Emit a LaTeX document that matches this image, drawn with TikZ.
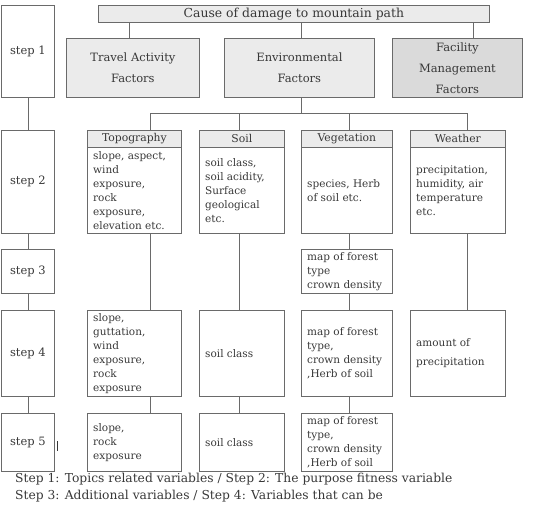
\documentclass[tikz,border=0pt]{standalone}
\usepackage{fontspec}
\setmainfont{DejaVu Serif}
\definecolor{lc}{HTML}{6A6A6A}
\definecolor{tc}{HTML}{383838}
\definecolor{fl}{HTML}{EBEBEB}
\definecolor{fd}{HTML}{DADADA}
\begin{document}
\begin{tikzpicture}[x=1pt,y=-1pt,
  box/.style={draw=lc, line width=0.8pt, inner sep=0pt, anchor=north west, text=tc},
  big/.style={font=\fontsize{11.5}{21}\selectfont, align=center},
  hdr/.style={box, fill=fl, font=\fontsize{10.8}{13}\selectfont, minimum height=17},
  txt/.style={anchor=west, align=left, inner sep=0pt, text=tc, font=\fontsize{10.5}{14}\selectfont},
  foot/.style={anchor=base west, inner sep=0pt, text=tc, font=\fontsize{12.3}{14}\selectfont},
  wire/.style={draw=lc, line width=0.8pt}]
\useasboundingbox (0,0) rectangle (543,504);
\clip (0,0) rectangle (543,504);
% level 1
\node[box, fill=fl, minimum width=391, minimum height=17, font=\fontsize{12.4}{14}\selectfont] (top) at (98,5) {Cause of damage to mountain path};
\node[box, big, minimum width=53, minimum height=92] (s1) at (1,5) {step 1};
\node[box, big, fill=fl, minimum width=133, minimum height=59] (tra) at (66,38) {Travel Activity\\Factors};
\node[box, big, fill=fl, minimum width=150, minimum height=59] (env) at (224,38) {Environmental\\Factors};
\node[box, big, fill=fd, minimum width=130, minimum height=59] (fac) at (392,38) {Facility\\Management\\Factors};
% step 2
\node[box, big, minimum width=53, minimum height=103] (s2) at (1,130) {step 2};
\node[hdr, minimum width=94] (topoH) at (87,130) {Topography};
\node[hdr, minimum width=85] (soilH) at (199,130) {Soil};
\node[hdr, minimum width=91] (vegH) at (301,130) {Vegetation};
\node[hdr, minimum width=95] (weaH) at (410,130) {Weather};
\node[box, minimum width=94, minimum height=86] (topoB) at (87,147) {};
\node[box, minimum width=85, minimum height=86] (soilB) at (199,147) {};
\node[box, minimum width=91, minimum height=86] (vegB) at (301,147) {};
\node[box, minimum width=95, minimum height=86] (weaB) at (410,147) {};
\node[txt] (topoBt) at ([xshift=6]topoB.west) {slope, aspect,\\wind\\exposure,\\rock\\exposure,\\elevation etc.};
\node[txt] (soilBt) at ([xshift=6]soilB.west) {soil class,\\soil acidity,\\Surface\\geological\\etc.};
\node[txt] (vegBt) at ([xshift=6]vegB.west) {species, Herb\\of soil etc.};
\node[txt] (weaBt) at ([xshift=6]weaB.west) {precipitation,\\humidity, air\\temperature\\etc.};
% step 3
\node[box, big, minimum width=53, minimum height=44] (s3) at (1,249) {step 3};
\node[box, minimum width=91, minimum height=44] (veg3) at (301,249) {};
\node[txt] (veg3t) at ([xshift=6]veg3.west) {map of forest\\type\\crown density};
% step 4
\node[box, big, minimum width=53, minimum height=86] (s4) at (1,310) {step 4};
\node[box, minimum width=94, minimum height=86] (topo4) at (87,310) {};
\node[box, minimum width=85, minimum height=86] (soil4) at (199,310) {};
\node[box, minimum width=91, minimum height=86] (veg4) at (301,310) {};
\node[box, minimum width=95, minimum height=86] (wea4) at (410,310) {};
\node[txt] (topo4t) at ([xshift=6]topo4.west) {slope,\\guttation,\\wind\\exposure,\\rock\\exposure};
\node[txt] (soil4t) at ([xshift=6]soil4.west) {soil class};
\node[txt] (veg4t) at ([xshift=6]veg4.west) {map of forest\\type,\\crown density\\,Herb of soil};
\node[txt, font=\fontsize{10.5}{19}\selectfont] (wea4t) at ([xshift=6]wea4.west) {amount of\\precipitation};
% step 5
\node[box, big, minimum width=53, minimum height=58] (s5) at (1,413) {step 5};
\node[box, minimum width=94, minimum height=58] (topo5) at (87,413) {};
\node[box, minimum width=85, minimum height=58] (soil5) at (199,413) {};
\node[box, minimum width=91, minimum height=58] (veg5) at (301,413) {};
\node[txt] (topo5t) at ([xshift=6]topo5.west) {slope,\\rock\\exposure};
\node[txt] (soil5t) at ([xshift=6]soil5.west) {soil class};
\node[txt] (veg5t) at ([xshift=6]veg5.west) {map of forest\\type,\\crown density\\,Herb of soil};
% column coordinates
\coordinate (xA) at (129,0);
\coordinate (xB) at (301,0);
\coordinate (xC) at (473,0);
\coordinate (bus) at (0,113);
\coordinate (cT) at (150,0);
\coordinate (cS) at (239,0);
\coordinate (cV) at (349,0);
\coordinate (cW) at (467,0);
% connectors
\draw[wire] (top.south -| xA) -- (tra.north -| xA);
\draw[wire] (top.south -| xB) -- (env.north -| xB);
\draw[wire] (top.south -| xC) -- (fac.north -| xC);
\draw[wire] (env.south -| xB) -- (bus -| xB);
\draw[wire] (bus -| cT) -- (bus -| cW);
\draw[wire] (bus -| cT) -- (topoH.north -| cT);
\draw[wire] (bus -| cS) -- (soilH.north -| cS);
\draw[wire] (bus -| cV) -- (vegH.north -| cV);
\draw[wire] (bus -| cW) -- (weaH.north -| cW);
\draw[wire] (topoB.south -| cT) -- (topo4.north -| cT);
\draw[wire] (topo4.south -| cT) -- (topo5.north -| cT);
\draw[wire] (soilB.south -| cS) -- (soil4.north -| cS);
\draw[wire] (soil4.south -| cS) -- (soil5.north -| cS);
\draw[wire] (vegB.south -| cV) -- (veg3.north -| cV);
\draw[wire] (veg3.south -| cV) -- (veg4.north -| cV);
\draw[wire] (veg4.south -| cV) -- (veg5.north -| cV);
\draw[wire] (weaB.south -| cW) -- (wea4.north -| cW);
\draw[wire] (s1.south) -- (s2.north);
\draw[wire] (s2.south) -- (s3.north);
\draw[wire] (s3.south) -- (s4.north);
\draw[wire] (s4.south) -- (s5.north);
% cursor mark
\draw[tc, line width=1.2] (57.5,441) -- (57.5,451);
% footer
\node[foot] (foot1) at (15,482) {Step 1: Topics related variables / Step 2: The purpose fitness variable};
\node[foot] (foot2) at (15,499.5) {Step 3: Additional variables / Step 4: Variables that can be};
\end{tikzpicture}
\end{document}
